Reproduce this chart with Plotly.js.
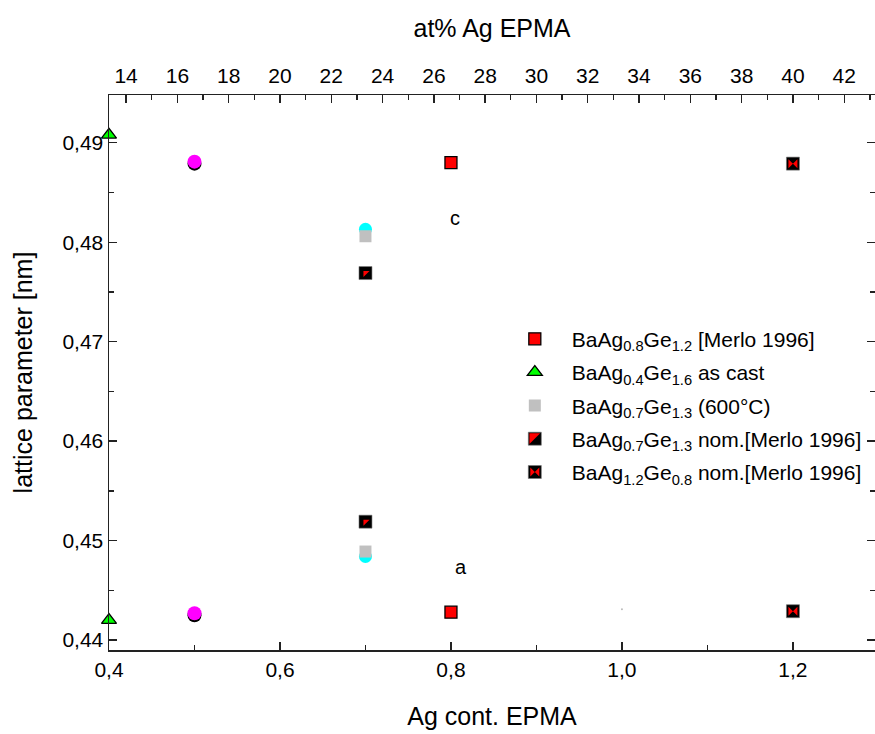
<!DOCTYPE html>
<html><head><meta charset="utf-8">
<script src="https://cdn.plot.ly/plotly-3.0.1.min.js"></script>
<style>html,body{margin:0;padding:0;background:#fff}</style>
</head><body><div id="chart" style="width:875px;height:734px"></div>
<script>
// ---- data (x = Ag content, y = lattice parameter in nm; first value c, second a) ----
const merloX = [0.8, 0.8];   const merloY = [0.4880, 0.4428];
const castX  = [0.4, 0.4];   const castY  = [0.4908, 0.4420];
const heatX  = [0.7, 0.7];   const heatY  = [0.4806, 0.4489];
const nom07X = [0.7, 0.7];   const nom07Y = [0.4769, 0.4519];
const nom12X = [1.2, 1.2];   const nom12Y = [0.4879, 0.4429];
const magX   = [0.5, 0.5];   const magY   = [0.4881, 0.4427];
const blkX   = [0.5, 0.5];   const blkY   = [0.4879, 0.4425];
const cyanX  = [0.7, 0.7];   const cyanY  = [0.4813, 0.4484];
const dotX   = [1.0];        const dotY   = [0.4431];

const names = [
  'BaAg<sub>0.8</sub>Ge<sub>1.2</sub> [Merlo 1996]',
  'BaAg<sub>0.4</sub>Ge<sub>1.6</sub> as cast',
  'BaAg<sub>0.7</sub>Ge<sub>1.3</sub> (600°C)',
  'BaAg<sub>0.7</sub>Ge<sub>1.3</sub> nom.[Merlo 1996]',
  'BaAg<sub>1.2</sub>Ge<sub>0.8</sub> nom.[Merlo 1996]'
];
const labelC = {x: 0.805, y: 0.4824, text: 'c'};
const labelA = {x: 0.812, y: 0.4473, text: 'a'};

const xMajor = [0.4, 0.6, 0.8, 1.0, 1.2];
const xMinor = [0.5, 0.7, 0.9, 1.1, 1.3];
const yMajor = [0.44, 0.45, 0.46, 0.47, 0.48, 0.49];
const yMinor = [0.445, 0.455, 0.465, 0.475, 0.485];
const topMajor = [14, 16, 18, 20, 22, 24, 26, 28, 30, 32, 34, 36, 38, 40, 42];
const topMinor = [15, 17, 19, 21, 23, 25, 27, 29, 31, 33, 35, 37, 39, 41, 43];

const xRange = [0.4, 1.296];
const yRange = [0.4390, 0.4948];

const F = 'Liberation Sans, Arial, sans-serif';
const noHover = {hoverinfo: 'skip'};

const traces = [
  Object.assign({x: blkX, y: blkY, mode: 'markers', showlegend: false,
    marker: {symbol: 'circle', size: 14, color: '#000'}}, noHover),
  Object.assign({x: magX, y: magY, mode: 'markers', showlegend: false,
    marker: {symbol: 'circle', size: 14, color: '#ff00ff'}}, noHover),
  Object.assign({x: cyanX, y: cyanY, mode: 'markers', showlegend: false,
    marker: {symbol: 'circle', size: 13, color: '#00ffff'}}, noHover),
  {x: heatX, y: heatY, mode: 'markers', name: names[2], legendrank: 3, legendgroup: 'g3',
    marker: {symbol: 'square', size: 12, color: '#c0c0c0'}},
  {x: merloX, y: merloY, mode: 'markers', name: names[0], legendrank: 1, legendgroup: 'g1',
    marker: {symbol: 'square', size: 12, color: '#ff0000', line: {color: '#000', width: 1.3}}},
  {x: castX, y: castY, mode: 'markers', name: names[1], legendrank: 2, legendgroup: 'g2', cliponaxis: false,
    marker: {symbol: 'triangle-up', size: 13, color: '#00ff00', line: {color: '#000', width: 1.3}}},
  {x: nom07X, y: nom07Y, mode: 'markers', name: names[3], legendrank: 4, legendgroup: 'g4',
    marker: {symbol: 'square', size: 13, color: '#000', line: {color: '#777', width: 0.6}}},
  Object.assign({x: nom07X, y: nom07Y, mode: 'markers', showlegend: false, legendgroup: 'g4',
    marker: {symbol: 'triangle-nw', size: 6.8, color: '#ff0000'}}, noHover),
  {x: nom12X, y: nom12Y, mode: 'markers', name: names[4], legendrank: 5, legendgroup: 'g5',
    marker: {symbol: 'square', size: 13, color: '#000', line: {color: '#777', width: 0.6}}},
  Object.assign({x: nom12X, y: nom12Y, mode: 'markers', showlegend: false, legendgroup: 'g5',
    marker: {symbol: 'bowtie', size: 9, color: '#ff0000'}}, noHover),
  Object.assign({x: dotX, y: dotY, mode: 'markers', showlegend: false,
    marker: {symbol: 'circle', size: 2, color: '#bbb'}}, noHover),
  {x: [], y: [], xaxis: 'x2', mode: 'markers', showlegend: false, hoverinfo: 'skip'}
];

const axisCommon = {
  showline: true, linecolor: '#222', linewidth: 1.5, ticks: 'inside', ticklen: 8,
  tickwidth: 1.4, tickcolor: '#222', showgrid: false, zeroline: false,
  tickfont: {family: F, size: 21, color: '#000'}
};
const minorCommon = {tickmode: 'array', ticks: 'inside', ticklen: 5, tickcolor: '#222', tickwidth: 1.3};
const titleFont = {family: F, size: 25, color: '#000'};

const layout = {
  width: 875, height: 734,
  margin: {l: 109, r: 0, t: 95, b: 84},
  paper_bgcolor: '#fff', plot_bgcolor: '#fff',
  separators: ',.',
  font: {family: F, color: '#000'},
  showlegend: true,
  legend: {x: 0.5076, y: 0.597, xanchor: 'left', yanchor: 'top', bgcolor: 'rgba(0,0,0,0)',
    font: {family: F, size: 21, color: '#000'}, itemwidth: 64,
    traceorder: 'grouped', tracegroupgap: 3},
  xaxis: Object.assign({}, axisCommon, {
    range: xRange, tickmode: 'array', tickvals: xMajor, tickformat: '.1f', ticklabelstandoff: 0,
    minor: Object.assign({tickvals: xMinor}, minorCommon),
    title: {text: 'Ag cont. EPMA', font: titleFont, standoff: 28}
  }),
  xaxis2: Object.assign({}, axisCommon, {
    overlaying: 'x', side: 'top', anchor: 'y', ticklabelstandoff: 2,
    range: [xRange[0] * 100 / 3, xRange[1] * 100 / 3], tickmode: 'array', tickvals: topMajor,
    minor: Object.assign({tickvals: topMinor}, minorCommon),
    title: {text: 'at% Ag EPMA', font: titleFont, standoff: 19}
  }),
  yaxis: Object.assign({}, axisCommon, {
    range: yRange, tickmode: 'array', tickvals: yMajor, tickformat: '.2f', mirror: 'ticks',
    minor: Object.assign({tickvals: yMinor}, minorCommon),
    title: {text: 'lattice parameter [nm]', font: titleFont, standoff: 22}
  }),
  annotations: [labelC, labelA].map(l => ({x: l.x, y: l.y, text: l.text, showarrow: false,
    xref: 'x', yref: 'y', font: {family: F, size: 20, color: '#000'}}))
};

Plotly.newPlot('chart', traces, layout, {displayModeBar: false, staticPlot: true}).then(() => {
  const ns = 'http://www.w3.org/2000/svg';
  document.querySelectorAll('.legend .traces').forEach(item => {
    const txt = item.textContent || '';
    let d = null;
    if (txt.indexOf('nom.') >= 0 && txt.indexOf('0.7') >= 0) d = 'M-5.4,5.4V-5.4H5.4Z';
    else if (txt.indexOf('nom.') >= 0 && txt.indexOf('1.2') >= 0) d = 'M4.5,4.5V-4.5L-4.5,4.5V-4.5Z';
    if (!d) return;
    const p = item.querySelector('.legendpoints path.scatterpts');
    if (!p) return;
    const np = document.createElementNS(ns, 'path');
    np.setAttribute('d', d);
    const tr = p.getAttribute('transform');
    if (tr) np.setAttribute('transform', tr);
    np.setAttribute('style', 'fill:#ff0000;stroke:none;');
    p.parentNode.appendChild(np);
  });
});
</script>
</body></html>
